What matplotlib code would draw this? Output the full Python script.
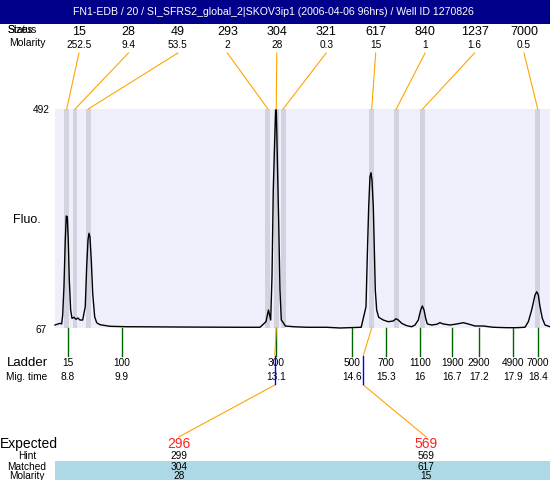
import matplotlib
matplotlib.use("Agg")
import matplotlib.pyplot as plt
import numpy as np
from matplotlib.patches import Rectangle

plt.rcParams['font.family'] = ['Liberation Sans', 'DejaVu Sans']

# ---- data ----
title = "FN1-EDB / 20 / SI_SFRS2_global_2|SKOV3ip1 (2006-04-06 96hrs) / Well ID 1270826"

peak_sizes = [15, 28, 49, 293, 304, 321, 617, 840, 1237, 7000]
peak_molarity = [252.5, 9.4, 53.5, 2, 28, 0.3, 15, 1, 1.6, 0.5]
peak_times = [8.78, 8.95, 9.22, 12.89, 13.06, 13.20, 15.01, 15.51, 16.05, 18.40]

ladder_sizes = [15, 100, 300, 500, 700, 1100, 1900, 2900, 4900, 7000]
ladder_times = [8.8, 9.9, 13.05, 14.6, 15.3, 16.0, 16.65, 17.2, 17.9, 18.4]
ladder_time_labels = ["8.8", "9.9", "13.1", "14.6", "15.3", "16", "16.7", "17.2", "17.9", "18.4"]

expected = [296, 569]
hint = [299, 569]
hint_times = [13.03, 14.84]
matched = [304, 617]
matched_times = [13.06, 15.01]
matched_molarity = [28, 15]

fluo_min, fluo_max = 67, 492

trace_time = [8.541, 8.643, 8.677, 8.698, 8.724, 8.751, 8.771, 8.792, 8.812, 8.833,
              8.861, 8.888, 8.929, 8.970, 9.010, 9.051, 9.106, 9.159, 9.188, 9.215,
              9.235, 9.255, 9.282, 9.311, 9.351, 9.392, 9.460, 9.664, 10.005, 11.09,
              12.319, 12.728, 12.850, 12.901, 12.946, 12.973, 12.999, 13.028, 13.048, 13.061,
              13.081, 13.110, 13.136, 13.163, 13.204, 13.244, 13.408, 13.682, 14.090, 14.362,
              14.795, 14.893, 14.919, 14.948, 14.974, 14.995, 15.015, 15.042, 15.062, 15.083,
              15.111, 15.152, 15.246, 15.348, 15.450, 15.506, 15.553, 15.622, 15.724, 15.826,
              15.894, 15.961, 16.010, 16.043, 16.078, 16.112, 16.145, 16.235, 16.337, 16.404,
              16.472, 16.609, 16.745, 16.880, 16.982, 17.119, 17.289, 17.493, 17.767, 17.971,
              18.140, 18.208, 18.277, 18.345, 18.380, 18.412, 18.447, 18.494, 18.549, 18.651]
trace_fluo = [72.8, 76.1, 74.8, 92.2, 147.1, 237.8, 284.3, 283.0, 237.8, 160.1,
              101.9, 85.8, 87.8, 83.9, 86.4, 82.5, 82.5, 108.3, 186.0, 237.8,
              250.8, 244.2, 199.0, 134.3, 88.9, 77.3, 73.4, 70.3, 69.5, 68.9,
              68.4, 68.4, 79.2, 101.9, 82.5, 166.6, 334.8, 431.8, 488.0, 491.0,
              399.4, 270.2, 140.7, 82.5, 77.3, 70.9, 69.5, 68.4, 68.4, 67.0,
              68.4, 108.3, 205.4, 302.4, 360.6, 368.4, 354.2, 302.4, 224.8, 140.7,
              101.9, 87.8, 82.5, 79.2, 80.6, 85.0, 82.5, 76.1, 71.5, 69.5,
              72.8, 82.5, 101.9, 109.7, 101.9, 85.8, 74.8, 72.8, 74.2, 77.3,
              74.8, 72.8, 74.8, 77.3, 74.8, 70.9, 70.9, 68.4, 67.6, 67.6,
              68.4, 79.2, 101.9, 131.0, 137.4, 131.0, 108.3, 85.8, 72.8, 69.5]

# ---- figure ----
W, H = 550, 480
fig = plt.figure(figsize=(W / 100, H / 100), dpi=100)

ax = fig.add_axes([55 / W, 1 - 328 / H, 495 / W, 219 / H])
ax.set_xlim(8.541, 18.651)
ax.set_ylim(fluo_min, fluo_max)
ax.set_facecolor('#efeffb')
for s in ax.spines.values():
    s.set_visible(False)
ax.set_xticks([])
ax.set_yticks([])

band_w = 0.1
for t in peak_times:
    ax.axvspan(t - band_w / 2, t + band_w / 2, color='#d3d3e0', lw=0, zorder=1)
ax.plot(trace_time, trace_fluo, color='black', lw=1.0, zorder=3, clip_on=False)

# overlay in pixel coordinates, origin top-left
ov = fig.add_axes([0, 0, 1, 1], zorder=5)
ov.set_xlim(0, W)
ov.set_ylim(H, 0)
ov.axis('off')


def to_px(t, f=fluo_min):
    x, y = ax.transData.transform((t, f))
    return x, H - y


plot_top = to_px(peak_times[0], fluo_max)[1]
plot_bot = to_px(peak_times[0], fluo_min)[1]
plot_left = to_px(8.541)[0]
plot_right = to_px(18.651)[0]

orange = '#ffa500'
green = '#006400'

# title bar
ov.add_patch(Rectangle((0, 0), W, 24, color='#00008b', lw=0))
ov.text(W / 2 - 2, 12, title, color='white', fontsize=7.6, ha='center', va='center')

# peak table on top
ov.text(8, 30, "Sizes", fontsize=7.5, ha='left', va='center')
ov.text(8, 30, "Status", fontsize=7.5, ha='left', va='center')
ov.text(27, 43, "Molarity", fontsize=7.5, ha='center', va='center')
label_x = np.linspace(79, 524, len(peak_sizes))
for lx, size, mol, t in zip(label_x, peak_sizes, peak_molarity, peak_times):
    ov.text(lx, 32, str(size), fontsize=9, ha='center', va='center')
    ov.text(lx, 45, f"{mol:g}", fontsize=7.3, ha='center', va='center')
    px = to_px(t)[0]
    ov.plot([lx, px], [53, plot_top], color=orange, lw=0.8)

# y labels
ov.text(41, plot_top + 1, str(fluo_max), fontsize=7.3, ha='center', va='center')
ov.text(41, plot_bot + 2, str(fluo_min), fontsize=7.3, ha='center', va='center')
ov.text(27, 220, "Fluo.", fontsize=9, ha='center', va='center')

# ladder
ov.text(27, 363, "Ladder", fontsize=9.5, ha='center', va='center')
ov.text(27, 377, "Mig. time", fontsize=7.3, ha='center', va='center')
for size, t, lab in zip(ladder_sizes, ladder_times, ladder_time_labels):
    px = to_px(t)[0]
    ov.plot([px, px], [plot_bot, 356], color=green, lw=1.0)
    ov.text(px, 363, str(size), fontsize=7.3, ha='center', va='center')
    ov.text(px, 377, lab, fontsize=7.3, ha='center', va='center')

# expected / matched table
ncol = len(expected)
col_x = [plot_left + (plot_right - plot_left) * (i + 0.5) / ncol for i in range(ncol)]
ov.add_patch(Rectangle((plot_left, 461), plot_right - plot_left, H - 461, color='#add8e6', lw=0))
ov.text(0, 444, "Expected", fontsize=10, ha='left', va='center')
ov.text(27, 456, "Hint", fontsize=7.3, ha='center', va='center')
ov.text(27, 467, "Matched", fontsize=7.3, ha='center', va='center')
ov.text(27, 476, "Molarity", fontsize=7.3, ha='center', va='center')
for cx, e, h, m, mm, ht, mt in zip(col_x, expected, hint, matched, matched_molarity,
                                   hint_times, matched_times):
    mx = to_px(mt)[0]
    hx = to_px(ht)[0]
    ov.plot([mx, hx], [plot_bot, 355], color=orange, lw=0.8, zorder=6)
    ov.plot([hx, hx], [356, 384], color='blue', lw=1.0, zorder=7)
    ov.plot([hx, cx], [385, 437], color=orange, lw=0.8)
    ov.text(cx, 444, str(e), fontsize=10, color='#ff2020', ha='center', va='center')
    ov.text(cx, 456, str(h), fontsize=7.3, ha='center', va='center')
    ov.text(cx, 467, str(m), fontsize=7.3, ha='center', va='center')
    ov.text(cx, 476, str(mm), fontsize=7.3, ha='center', va='center')

fig.savefig("out.png", dpi=100)
